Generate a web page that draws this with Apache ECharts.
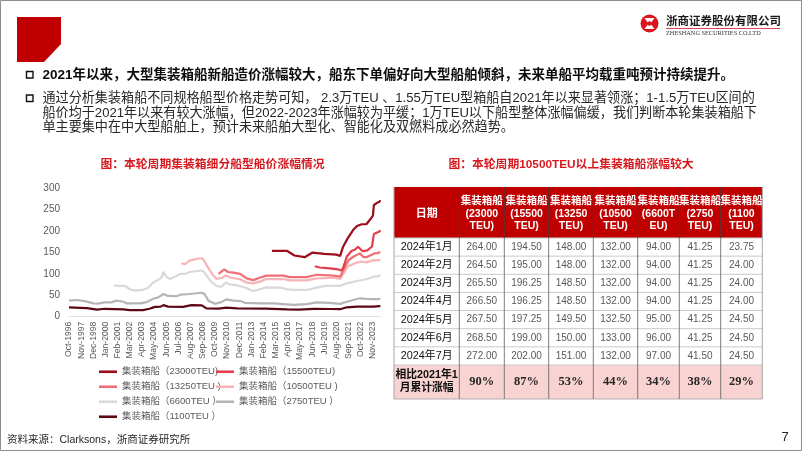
<!DOCTYPE html>
<html><head><meta charset="utf-8">
<script src="https://cdn.jsdelivr.net/npm/echarts@6.0.0/dist/echarts.min.js"></script>
<style>html,body{margin:0;padding:0;background:#fff}#c{width:802px;height:451px}</style>
</head><body><div id="c"></div>
<script>
// ---------- data ----------
const MONTHS = ['Jan','Feb','Mar','Apr','May','Jun','Jul','Aug','Sep','Oct','Nov','Dec'];
const START_YEAR = 1996, START_MONTH = 10, MONTH_COUNT = 334; // Oct-1996 .. Jul-2024
const categories = [];
for (let i = 0; i < MONTH_COUNT; i++) { const t = START_MONTH - 1 + i; categories.push(MONTHS[t % 12] + '-' + (START_YEAR + Math.floor(t / 12))); }

const seriesNames = ['集装箱船（23000TEU)', '集装箱船（15500TEU)', '集装箱船（13250TEU )', '集装箱船（10500TEU )', '集装箱船（6600TEU ）', '集装箱船（2750TEU ）', '集装箱船（1100TEU ）'];

const s23000 = [['2014-11',154],['2016-03',154],['2016-11',143],['2017-10',139],['2018-06',149.5],['2019-07',147],['2020-08',145],['2020-12',142],['2021-01',143],['2021-03',163],['2021-08',183],['2022-02',203],['2022-06',212],['2022-11',216],['2023-04',216],['2023-08',227],['2023-11',236],['2023-12',261],
  ['2024-01',264],['2024-02',264.5],['2024-03',265.5],['2024-04',266.5],['2024-05',267.5],['2024-06',268.5],['2024-07',272]];
const s15500 = [['2018-09',118],['2019-02',115],['2020-01',113],['2020-10',110.5],['2020-12',107],['2021-01',108],['2021-03',113],['2021-07',140],['2021-12',153.5],['2022-04',157],['2022-07',163.5],['2022-12',153],['2023-05',155],['2023-10',164],['2023-11',165],['2023-12',193],
  ['2024-01',194.5],['2024-02',195],['2024-03',196.25],['2024-04',196.25],['2024-05',197.25],['2024-06',199],['2024-07',202]];
const s13250 = [['2010-02',100],['2010-08',110.5],['2010-12',104.5],['2011-06',103],['2012-01',100],['2012-08',89.5],['2013-03',85.5],['2013-10',91],['2014-05',96],['2015-11',96],['2016-06',92.5],['2017-12',92.5],['2018-11',98],['2020-05',96],['2020-12',93.5],['2021-01',98.7],['2021-03',101],['2021-09',132.5],['2022-02',140],['2022-09',148],['2023-01',139],['2023-04',139],['2023-08',143],
  ['2024-01',148],['2024-02',148],['2024-03',148.5],['2024-04',148.5],['2024-05',149.5],['2024-06',150],['2024-07',151]];
const s10500 = [['2006-10',125],['2007-02',123],['2007-07',131],['2008-04',136],['2008-09',136],['2009-01',121],['2009-07',100],['2009-12',88],['2010-06',91],['2010-10',96.5],['2011-03',91],['2012-01',87.5],['2012-08',79.5],['2013-03',78],['2013-10',82],['2014-05',88],['2015-11',88],['2016-06',85],['2017-12',85],['2018-11',89.5],['2020-05',91],['2020-12',88],['2021-01',92],['2021-08',117],['2022-05',126],['2022-11',129],['2023-04',127],['2023-11',131.5],
  ['2024-01',132],['2024-02',132],['2024-03',132],['2024-04',132],['2024-05',132.5],['2024-06',133],['2024-07',132]];
const s6600 = [['2000-10',72.5],['2001-10',72],['2002-03',64],['2002-09',61],['2003-05',62.5],['2003-11',68.5],['2004-04',80],['2004-09',85.5],['2005-01',92],['2005-03',105],['2005-06',93.5],['2005-10',88],['2006-05',95],['2006-09',100],['2007-02',100],['2007-07',104.5],['2008-08',108],['2008-11',103],['2009-05',84],['2009-12',71.5],['2010-05',70],['2010-10',80],['2011-02',75.5],['2011-10',73],['2012-06',68.5],['2013-03',60],['2013-10',64],['2014-05',68.5],['2015-08',68],['2016-03',64],['2017-01',62.5],['2017-12',62.5],['2018-11',68],['2019-08',72],['2020-12',72],['2021-01',72.5],['2021-07',78],['2022-06',83.5],['2023-04',87.5],['2023-10',92],
  ['2024-01',94],['2024-02',94],['2024-03',94],['2024-04',94],['2024-05',95],['2024-06',96],['2024-07',97]];
const s2750 = [['1996-10',37.5],['1997-06',39],['1998-03',36.5],['1998-12',31],['1999-05',30.5],['1999-12',33.5],['2000-07',33.5],['2001-01',37.5],['2001-08',35],['2001-12',31],['2003-02',31],['2003-09',34],['2004-04',42],['2004-09',44.5],['2005-03',53],['2005-08',48.5],['2006-05',48],['2006-09',51.5],['2007-07',53],['2008-08',56],['2008-11',53],['2009-03',37.5],['2009-10',30],['2010-05',34],['2010-10',40.5],['2011-06',37.5],['2012-01',36.5],['2012-06',32.5],['2013-10',31],['2015-02',31],['2015-11',29.5],['2016-10',27.5],['2017-12',29.5],['2018-11',33.5],['2020-01',32.5],['2020-12',30],['2021-01',30],['2021-07',35],['2022-02',39],['2022-09',43],['2023-04',41.5],
  ['2024-01',41.25],['2024-02',41.25],['2024-03',41.25],['2024-04',41.25],['2024-05',41.25],['2024-06',41.25],['2024-07',41.5]];
const s1100 = [['1996-10',22],['1998-05',20],['1999-04',16.5],['1999-12',18.5],['2001-08',17],['2002-03',15.5],['2003-05',15.5],['2003-12',18.5],['2004-06',23],['2004-12',23.5],['2005-03',27],['2005-08',23.5],['2006-12',23],['2007-09',27],['2008-08',26.5],['2009-01',19.5],['2010-02',19],['2010-10',21],['2011-10',19.5],['2014-04',19],['2016-03',17],['2017-04',16.5],['2018-08',18.5],['2020-02',18],['2020-12',17.5],['2021-01',19],['2021-07',22],['2022-06',23.5],['2023-12',23.5],
  ['2024-01',23.75],['2024-02',24],['2024-03',24],['2024-04',24],['2024-05',24.5],['2024-06',24.5],['2024-07',24.5]];

const yTicks = [0, 50, 100, 150, 200, 250, 300];

// table data
const tableHeadFirst = '日期';
const tableHeads = ['集装箱船\n(23000\nTEU)', '集装箱船\n(15500\nTEU)', '集装箱船\n(13250\nTEU)', '集装箱船\n(10500\nTEU)', '集装箱船\n(6600T\nEU)', '集装箱船\n(2750\nTEU)', '集装箱船\n(1100\nTEU)'];
const tableDates = ['2024年1月', '2024年2月', '2024年3月', '2024年4月', '2024年5月', '2024年6月', '2024年7月'];
const tableValues = [
  [264.00, 194.50, 148.00, 132.00, 94.00, 41.25, 23.75],
  [264.50, 195.00, 148.00, 132.00, 94.00, 41.25, 24.00],
  [265.50, 196.25, 148.50, 132.00, 94.00, 41.25, 24.00],
  [266.50, 196.25, 148.50, 132.00, 94.00, 41.25, 24.00],
  [267.50, 197.25, 149.50, 132.50, 95.00, 41.25, 24.50],
  [268.50, 199.00, 150.00, 133.00, 96.00, 41.25, 24.50],
  [272.00, 202.00, 151.00, 132.00, 97.00, 41.50, 24.50]
];
const tableSumLabel = ['相比2021年1', '月累计涨幅'];
const tableChange = ['90%', '87%', '53%', '44%', '34%', '38%', '29%'];

// texts
const bullet1 = '2021年以来，大型集装箱船新船造价涨幅较大，船东下单偏好向大型船舶倾斜，未来单船平均载重吨预计持续提升。';
const bullet2Lines = [
  '通过分析集装箱船不同规格船型价格走势可知， 2.3万TEU 、1.55万TEU型箱船自2021年以来显著领涨；1-1.5万TEU区间的',
  '船价均于2021年以来有较大涨幅，但2022-2023年涨幅较为平缓；1万TEU以下船型整体涨幅偏缓，我们判断本轮集装箱船下',
  '单主要集中在中大型船舶上，预计未来船舶大型化、智能化及双燃料成必然趋势。'
];
const leftTitle = '图：本轮周期集装箱细分船型船价涨幅情况';
const rightTitle = '图：本轮周期10500TEU以上集装箱船涨幅较大';
const sourceText = '资料来源：Clarksons，浙商证券研究所';
const pageNo = '7';
const companyCn = '浙商证券股份有限公司';
const companyEn = 'ZHESHANG SECURITIES CO.LTD';

// ---------- helpers ----------
function mi(s) { const p = s.split('-').map(Number); return (p[0] - START_YEAR) * 12 + (p[1] - 1) - (START_MONTH - 1); }
function toData(arr) { return arr.map(d => [mi(d[0]), d[1]]); }

const FONT = '"Liberation Sans", "Noto Sans CJK SC", sans-serif';
const CJK = '"Noto Sans CJK SC", "Liberation Sans", sans-serif';
const colors = ['#9c0d1c', '#e33e4a', '#ef6f76', '#f6b4b7', '#d9d9d9', '#b5b5b5', '#5c0812'];
const seriesData = [s23000, s15500, s13250, s10500, s6600, s2750, s1100];
const drawOrder = [4, 5, 3, 2, 1, 6, 0];

const series = drawOrder.map(k => ({
  name: seriesNames[k], type: 'line', data: toData(seriesData[k]), showSymbol: false, symbol: 'none',
  lineStyle: { width: 2.2, color: colors[k] }, itemStyle: { color: colors[k] }, z: 2 + drawOrder.indexOf(k), animation: false
}));

// legends: 2 columns x 4 rows
const legendPos = [[99, 373], [216, 373], [99, 388], [216, 388], [99, 403], [216, 403], [99, 418]];
const legends = seriesNames.map((n, k) => ({
  data: [n], left: legendPos[k][0], top: legendPos[k][1] - 6, padding: 0, itemWidth: 18, itemHeight: 2.6,
  icon: 'rect', textStyle: { color: '#595959', fontSize: 9.5, fontFamily: FONT }, selectedMode: false
}));

// ---------- graphic ----------
const g = [];
function txt(text, x, y, o) {
  g.push({ type: 'text', silent: true, z: 100, style: Object.assign({ text: text, x: x, y: y, fill: '#333', fontSize: 12, fontFamily: FONT, textAlign: 'left', textVerticalAlign: 'middle' }, o || {}) });
}
function rect(x, y, w, h, fill, stroke) {
  g.push({ type: 'rect', silent: true, z: 90, shape: { x: x, y: y, width: w, height: h }, style: { fill: fill || 'none', stroke: stroke || null, lineWidth: 1 } });
}
function line(x1, y1, x2, y2, c, w) {
  g.push({ type: 'line', silent: true, z: 95, shape: { x1: x1, y1: y1, x2: x2, y2: y2 }, style: { stroke: c, lineWidth: w || 1 } });
}

// frame
rect(0.5, 0.5, 801, 450, 'none', '#8c8c8c');
// red block
g.push({ type: 'polygon', silent: true, z: 90, shape: { points: [[17, 17], [61, 17], [61, 44], [44, 62], [17, 62]] }, style: { fill: '#c00000' } });
// logo
g.push({ type: 'circle', silent: true, z: 90, shape: { cx: 649.5, cy: 23.5, r: 9 }, style: { fill: '#d9141e' } });
g.push({ type: 'polygon', silent: true, z: 91, shape: { points: [[644.5, 18], [654.5, 18], [650.5, 23.5], [654.5, 29], [644.5, 29], [648.5, 23.5]] }, style: { fill: '#fff' } });
g.push({ type: 'circle', silent: true, z: 92, shape: { cx: 649.5, cy: 23.5, r: 2.2 }, style: { fill: '#d9141e' } });
txt(companyCn, 666, 20.5, { fontSize: 11.5, fontWeight: 'bold', fill: '#1a1a1a', fontFamily: CJK });
line(666, 28.5, 780, 28.5, '#d9141e', 0.8);
txt(companyEn, 666, 33, { fontSize: 6.3, fill: '#333', fontFamily: '"Liberation Serif", serif' });

// bullets
rect(26.5, 71.5, 6.5, 6.5, 'none', '#111');
rect(26.5, 95, 6.5, 6.5, 'none', '#111');
g[g.length - 1].style.lineWidth = 1.4; g[g.length - 2].style.lineWidth = 1.4;
txt(bullet1, 42.5, 75, { fontSize: 13.5, fontWeight: 'bold', fill: '#0d0d0d' });
const bY = [98.5, 113, 127.3];
bullet2Lines.forEach((l, i) => txt(l, 42.5, bY[i], { fontSize: 13.1, fill: '#262626' }));

// titles
txt(leftTitle, 212.5, 165, { fontSize: 11.8, fontWeight: 'bold', fill: '#d7191f', textAlign: 'center' });
txt(rightTitle, 571, 165, { fontSize: 11.8, fontWeight: 'bold', fill: '#d7191f', textAlign: 'center' });

// source + page
txt(sourceText, 7, 440, { fontSize: 10.5, fill: '#262626' });
txt(pageNo, 785, 437, { fontSize: 13, fill: '#262626', textAlign: 'center' });

// table
const colX = [394, 459.3, 504.3, 548.7, 593.3, 637.7, 679.3, 720.7, 762.3];
const headTop = 187, headBot = 238, rowH = 18.14, sumTop = headBot + rowH * 7, sumBot = 399;
const tL = colX[0], tR = colX[colX.length - 1];
rect(tL, headTop, tR - tL, headBot - headTop, '#c00000');
rect(tL, sumTop, tR - tL, sumBot - sumTop, '#f9d2d2');
for (let r = 1; r <= 7; r++) line(tL, headBot + rowH * r, tR, headBot + rowH * r, '#c9c9c9', 1);
line(tL, sumBot, tR, sumBot, '#b0b0b0', 1);
line(tL, headBot, tR, headBot, '#d0d0d0', 1);
for (let c = 1; c < colX.length - 1; c++) {
  line(colX[c], headTop, colX[c], headBot, '#3d3d3d', 0.8);
  line(colX[c], headBot, colX[c], sumBot, '#6e6e6e', 0.9);
}
line(tL, headTop, tL, sumBot, '#a6a6a6', 1);
line(tR, headTop, tR, sumBot, '#a6a6a6', 1);
const cc = i => (colX[i] + colX[i + 1]) / 2;
txt(tableHeadFirst, cc(0), 213, { fontSize: 11, fontWeight: 'bold', fill: '#fff', textAlign: 'center', fontFamily: CJK });
tableHeads.forEach((h, i) => {
  h.split('\n').forEach((s, j) => txt(s, cc(i + 1), 201.5 + j * 12.3, { fontSize: 10.5, fontWeight: 'bold', fill: '#fff', textAlign: 'center', fontFamily: FONT }));
});
tableDates.forEach((d, r) => {
  const y = headBot + rowH * r + rowH / 2;
  txt(d, cc(0), y, { fontSize: 10.8, fill: '#0d0d0d', textAlign: 'center', fontFamily: FONT });
  tableValues[r].forEach((v, i) => txt(v.toFixed(2), cc(i + 1), y, { fontSize: 10, fill: '#595959', textAlign: 'center' }));
});
tableSumLabel.forEach((s, j) => txt(s, cc(0), 375.5 + j * 13, { fontSize: 10.8, fontWeight: 'bold', fill: '#0d0d0d', textAlign: 'center' }));
tableChange.forEach((s, i) => txt(s, cc(i + 1), 382, { fontSize: 12.5, fontWeight: 'bold', fill: '#262626', textAlign: 'center', fontFamily: '"Liberation Serif", serif' }));

// ---------- chart ----------
const chart = echarts.init(document.getElementById('c'), null, { renderer: 'canvas' });
chart.setOption({
  animation: false,
  backgroundColor: '#fff',
  textStyle: { fontFamily: FONT },
  grid: { left: 69, top: 188.3, width: 311.4, height: 128.4, containLabel: false },
  legend: legends,
  xAxis: {
    type: 'category', data: categories, boundaryGap: false,
    axisLine: { show: true, lineStyle: { color: '#eddede', width: 1 } },
    axisTick: { show: false },
    axisLabel: { interval: 12, rotate: 90, fontSize: 8.6, color: '#595959', margin: 5, fontFamily: FONT },
    splitLine: { show: false }
  },
  yAxis: {
    type: 'value', min: yTicks[0], max: yTicks[yTicks.length - 1], interval: 50,
    axisLine: { show: false }, axisTick: { show: false }, splitLine: { show: false },
    axisLabel: { fontSize: 10, color: '#595959', margin: 9, fontFamily: FONT }
  },
  series: series,
  graphic: { elements: g }
});
</script>
</body></html>
